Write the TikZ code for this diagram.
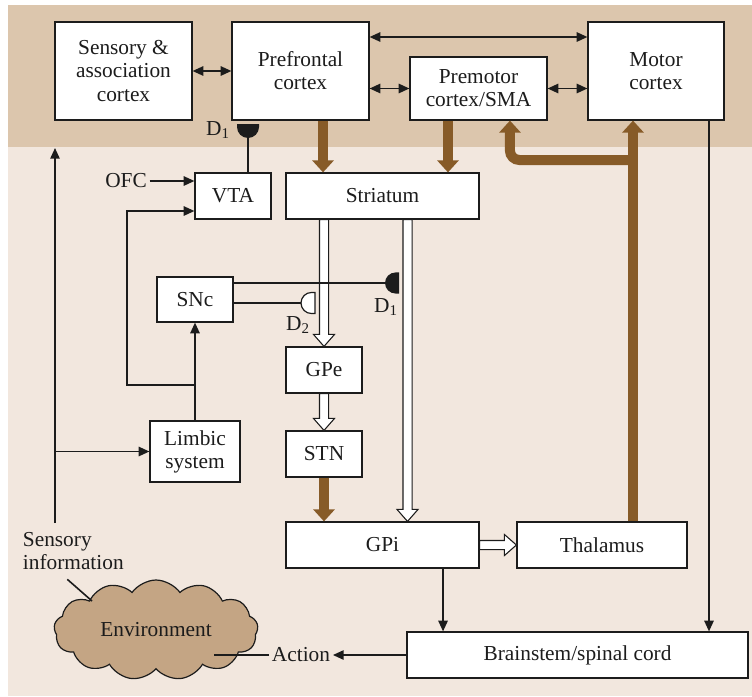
\documentclass[tikz,border=0pt]{standalone}
\usepackage{fontspec}
\setmainfont{Liberation Serif}
\usetikzlibrary{arrows.meta,calc,shapes.symbols}
\definecolor{ink}{HTML}{1C1C1C}
\definecolor{bandfill}{HTML}{DCC6AD}
\definecolor{floorfill}{HTML}{F2E7DE}
\definecolor{tract}{HTML}{875B28}
\definecolor{cloudfill}{HTML}{C4A584}
\newcommand{\diagfont}{\fontsize{16}{17.3}\selectfont}
\tikzset{
 every node/.append style={font=\diagfont,text=ink,align=center},
 box/.style={draw=ink,fill=white,line width=.9pt,inner sep=2pt},
 word/.style={inner sep=2pt},
 route/.style={draw=ink,line width=1.2pt},
 flow/.style={route,-{Triangle[length=8pt,width=7pt]}},
 twoway/.style={route,{Triangle[length=8pt,width=7pt]}-{Triangle[length=8pt,width=7pt]}},
 tractline/.style={draw=tract,line width=7.5pt},
 tractarrow/.style={tractline,-{Triangle[length=9pt,width=15.75pt]}},
 hollow/.style={draw=ink,fill=white,line width=.8pt,line join=miter,
   to path={-- ($(\tikztostart)!3.4pt!90:(\tikztotarget)$)
     -- ($(\tikztotarget)!9pt!(\tikztostart)!3.4pt!90:(\tikztotarget)$)
     -- ($(\tikztotarget)!9pt!(\tikztostart)!7.9pt!90:(\tikztotarget)$)
     -- (\tikztotarget)
     -- ($(\tikztotarget)!9pt!(\tikztostart)!7.9pt!-90:(\tikztotarget)$)
     -- ($(\tikztotarget)!9pt!(\tikztostart)!3.4pt!-90:(\tikztotarget)$)
     -- ($(\tikztostart)!3.4pt!-90:(\tikztotarget)$) -- cycle}},
 agonist/.style={fill=ink},
 antagonist/.style={fill=white,draw=ink,line width=.9pt},
}

\begin{document}
\begin{tikzpicture}[x=0.75pt,y=-0.75pt]
\useasboundingbox (0,0) rectangle (752,696);
\fill[bandfill] (8,5) rectangle (752,147);
\fill[floorfill] (8,147) rectangle (752,696);

% cortex row
\node[box,minimum width=102.75pt,minimum height=73.5pt] (sens) at (123.5,71) {Sensory \&\\association\\cortex};
\node[box,minimum width=102.75pt,minimum height=73.5pt] (pfc) at (300.5,71) {Prefrontal\\cortex};
\node[box,minimum width=102.75pt,minimum height=47.25pt] (pmc) at (478.5,88.5) {Premotor\\cortex/SMA};
\node[box,minimum width=102pt,minimum height=73.5pt] (mc) at (656,71) {Motor\\cortex};

% basal ganglia loop
\node[box,minimum width=57pt,minimum height=34.5pt] (vta) at (233,196) {VTA};
\node[box,minimum width=144.75pt,minimum height=34.5pt] (str) at (382.5,196) {Striatum};
\node[box,minimum width=57pt,minimum height=33.75pt] (snc) at (195,299.5) {SNc};
\node[box,minimum width=57pt,minimum height=34.5pt] (gpe) at (324,370) {GPe};
\node[box,minimum width=57pt,minimum height=34.5pt] (stn) at (324,454) {STN};
\node[box,minimum width=67.5pt,minimum height=45.75pt] (limbic) at (195,451.5) {Limbic\\system};
\node[box,minimum width=144.75pt,minimum height=34.5pt] (gpi) at (382.5,545) {GPi};
\node[box,minimum width=127.5pt,minimum height=34.5pt] (thal) at (602,545) {Thalamus};
\node[box,minimum width=255.75pt,minimum height=34.5pt] (bs) at (577.5,655) {Brainstem/spinal cord};

\node[cloud,cloud puffs=13,cloud puff arc=110,aspect=2.05,draw=ink,fill=cloudfill,line width=.9pt,
  minimum width=153pt,minimum height=75pt,inner sep=0pt] (env) at (156,630) {Environment};

\node[word] (ofc) at (126,181) {OFC};
\node[word,align=left,anchor=west] (sensinfo) at (20,551) {Sensory\\information};
\node[word] (action) at (301,655) {Action};
\node[word] (d1top) at (218,130) {D\textsubscript{1}};
\node[word] (d2lbl) at (298,325) {D\textsubscript{2}};
\node[word] (d1lbl) at (386,307) {D\textsubscript{1}};

\coordinate (split) at (195,385);
\coordinate (turn) at (127,385);
\coordinate (sensebot) at (55,523);
\coordinate (sensetop) at (55,148);
\coordinate (envtag) at (92,601);
\coordinate (envout) at (214,655);
\coordinate (r1) at (248,124);
\coordinate (r2) at (399,283);
\coordinate (r3) at (315,303);
\coordinate (thup) at ([xshift=23.25pt]thal.north);
\coordinate (fork) at (633,160);

% cortical links
\draw[twoway] (sens) -- (pfc);
\draw[twoway] ([yshift=25.5pt]pfc.east) -- ([yshift=25.5pt]mc.west);
\draw[twoway] (pfc.east |- pmc.west) -- (pmc.west);
\draw[twoway] (pmc.east) -- (mc.west |- pmc.east);

% thin links
\draw[flow] (ofc) -- (vta.west |- ofc);
\draw[flow] (split) -- (turn) |- ([yshift=-11.25pt]vta.west);
\draw[flow] (limbic) -- (snc);
\draw[flow] (sensebot) -- (sensetop);
\draw[flow] (sensebot |- limbic.west) -- (limbic.west);
\draw[route] ([xshift=-4.5pt,yshift=-5pt]sensinfo.south) -- (envtag);
\draw[route] (action) -- (envout);
\draw[flow] (bs) -- (action);
\draw[flow] ([xshift=45.4pt]gpi.south) -- ([xshift=45.4pt]gpi.south |- bs.north);
\draw[flow] ([xshift=39.75pt]mc.south) -- ([xshift=39.75pt]mc.south |- bs.north);

% inhibitory (open) pathways
\draw[hollow] (str.south -| gpe.north) to (gpe.north);
\draw[hollow] (gpe.south) to (stn.north);
\draw[hollow] ([xshift=18.75pt]str.south) to ([xshift=18.75pt]gpi.north);
\draw[hollow] (gpi.east) to (thal.west);

% excitatory tracts
\draw[tractarrow] ([xshift=16.9pt]pfc.south) -- ([xshift=16.9pt]pfc.south |- str.north);
\draw[tractarrow] ([xshift=-22.9pt]pmc.south) -- ([xshift=-22.9pt]pmc.south |- str.north);
\draw[tractarrow] (stn.south) -- (stn.south |- gpi.north);
\draw[tractarrow] (thup) -- (thup |- mc.south);
\draw[tractarrow,rounded corners=7pt] (fork) -| ([xshift=23.6pt]pmc.south);

% dopamine receptors
\draw[route] ([xshift=11.25pt]vta.north) -- ([yshift=-10.5pt]r1);
\fill[agonist] ([xshift=-8.25pt]r1) -- ([xshift=8.25pt]r1) -- ++(0pt,-2.25pt)
  arc[start angle=0,end angle=-180,radius=8.25pt] -- cycle;
\draw[route] (snc.east |- r2) -- ([xshift=-10.5pt]r2);
\draw[route] (snc.east |- r3) -- ([xshift=-10.5pt]r3);
\fill[agonist] ([yshift=7.9pt]r2) -- ([yshift=-7.9pt]r2) -- ++(-2.6pt,0pt)
  arc[start angle=-90,end angle=-270,radius=7.9pt] -- cycle;
\draw[antagonist] ([yshift=7.9pt]r3) -- ([yshift=-7.9pt]r3) -- ++(-2.6pt,0pt)
  arc[start angle=-90,end angle=-270,radius=7.9pt] -- cycle;

\end{tikzpicture}
\end{document}
